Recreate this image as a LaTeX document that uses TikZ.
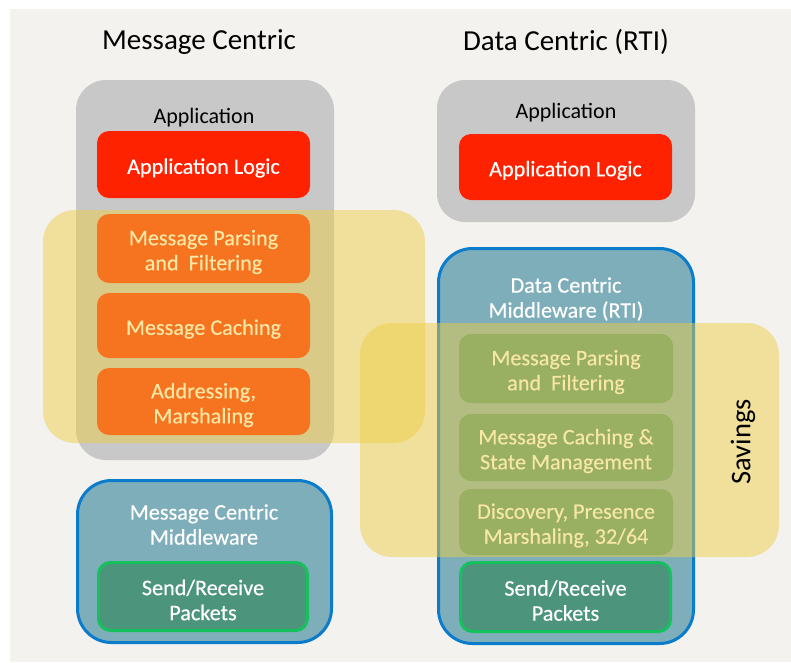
\documentclass[tikz,border=0pt]{standalone}
\usepackage{fontspec}
\setmainfont{Carlito}
\newfontfamily\boxface[FakeBold=0.4]{Carlito}
\begin{document}
\definecolor{pagebg}{HTML}{F3F2EE}
\definecolor{appgray}{HTML}{C8C8C8}
\definecolor{logicred}{HTML}{FF2200}
\definecolor{mwblue}{HTML}{7FAEBB}
\definecolor{mwedge}{HTML}{0B7BCB}
\definecolor{pktgreen}{HTML}{4D947D}
\definecolor{pktedge}{HTML}{15C15D}
\definecolor{savyellow}{HTML}{EDCD43}
\begin{tikzpicture}[x=1pt,y=-1pt,
  title/.style={font=\fontsize{29}{33}\selectfont, text=black},
  caption/.style={font=\fontsize{22}{25}\selectfont, text=black, align=center},
  boxtext/.style={font=\boxface\fontsize{22.2}{25}\selectfont, text=white, align=center, inner sep=0pt},
  appbox/.style={fill=appgray, draw=none, rounded corners=30pt, inner sep=0pt},
  logicbox/.style={fill=logicred, draw=none, rounded corners=12pt, inner sep=0pt},
  mwbox/.style={fill=mwblue, draw=mwedge, line width=3pt, rounded corners=34pt, inner sep=0pt},
  pktbox/.style={fill=pktgreen, draw=none, rounded corners=12pt, inner sep=0pt},
  pktedged/.style={pktbox, draw=pktedge, line width=3pt},
  savings/.style={fill=savyellow, fill opacity=0.48, draw=none, rounded corners=32pt, inner sep=0pt},
  lift/.style={yshift=-3.5pt}
]
\useasboundingbox (0,0) rectangle (791,662);
\fill[pagebg] (10,9) rectangle (791,662);

% column titles
\node[title] (tmc) at (199,42) {Message Centric};
\node[title] (tdc) at (566,42) {Data Centric (RTI)};

% ---- message centric stack ----
\node[appbox, minimum width=258pt, minimum height=380pt] (lapp) at (205,270) {};
\node[caption] (lapplbl) at (204,117.5) {Application};
\node[logicbox, minimum width=213pt, minimum height=67pt] (llogic) at (203.5,164.5) {};
\node[logicbox, minimum width=213pt, minimum height=69pt] (lparse) at (203.5,248.5) {};
\node[logicbox, minimum width=213pt, minimum height=65pt] (lcache) at (203.5,325.5) {};
\node[logicbox, minimum width=213pt, minimum height=67pt] (laddr) at (203.5,401.5) {};
\node[boxtext, lift] (tllogic) at (llogic) {Application Logic};
\node[boxtext, lift] (tlparse) at (lparse) {Message Parsing\\and~ Filtering};
\node[boxtext, lift] (tlcache) at (lcache) {Message Caching};
\node[boxtext, lift] (tladdr) at (laddr) {Addressing,\\Marshaling};

\node[mwbox, minimum width=254pt, minimum height=162pt] (lmw) at (204.5,561.5) {};
\node[boxtext] (lmwlbl) at (204,524.5) {Message Centric\\Middleware};
\node[pktedged, minimum width=209pt, minimum height=68pt] (lpkt) at (203,596.5) {};
\node[boxtext, lift] (tlpkt) at (lpkt) {Send/Receive\\Packets};

% ---- data centric stack ----
\node[appbox, minimum width=258pt, minimum height=142pt, rounded corners=28pt] (rapp) at (566,151) {};
\node[caption] (rapplbl) at (566,112.5) {Application};
\node[logicbox, minimum width=213pt, minimum height=66pt] (rlogic) at (565.5,167) {};
\node[boxtext, lift] (trlogic) at (rlogic) {Application Logic};

\node[mwbox, minimum width=255pt, minimum height=395pt] (rmw) at (566,446) {};
\node[boxtext] (rmwlbl) at (566,299) {Data Centric\\Middleware (RTI)};
\node[pktbox, minimum width=214pt, minimum height=69pt] (rparse) at (566,368.5) {};
\node[pktbox, minimum width=214pt, minimum height=67pt] (rcache) at (566,447.5) {};
\node[pktbox, minimum width=214pt, minimum height=66pt] (rdisc) at (566,522) {};
\node[pktedged, minimum width=210pt, minimum height=69pt] (rpkt) at (565.5,597) {};
\node[boxtext, lift] (trparse) at (rparse) {Message Parsing\\and~ Filtering};
\node[boxtext, lift] (trcache) at (rcache) {Message Caching \&\\State Management};
\node[boxtext, lift] (trdisc) at (rdisc) {Discovery, Presence\\Marshaling, 32/64};
\node[boxtext, lift] (trpkt) at (rpkt) {Send/Receive\\Packets};

% ---- translucent "savings" bands ----
\node[savings, minimum width=382pt, minimum height=233pt] (lsave) at (234,326.5) {};
\node[savings, minimum width=419pt, minimum height=234pt] (rsave) at (569.5,440) {};
\node[font=\fontsize{28.5}{32}\selectfont, text=black, rotate=90] (savlbl) at (743,442) {Savings};
\end{tikzpicture}
\end{document}
